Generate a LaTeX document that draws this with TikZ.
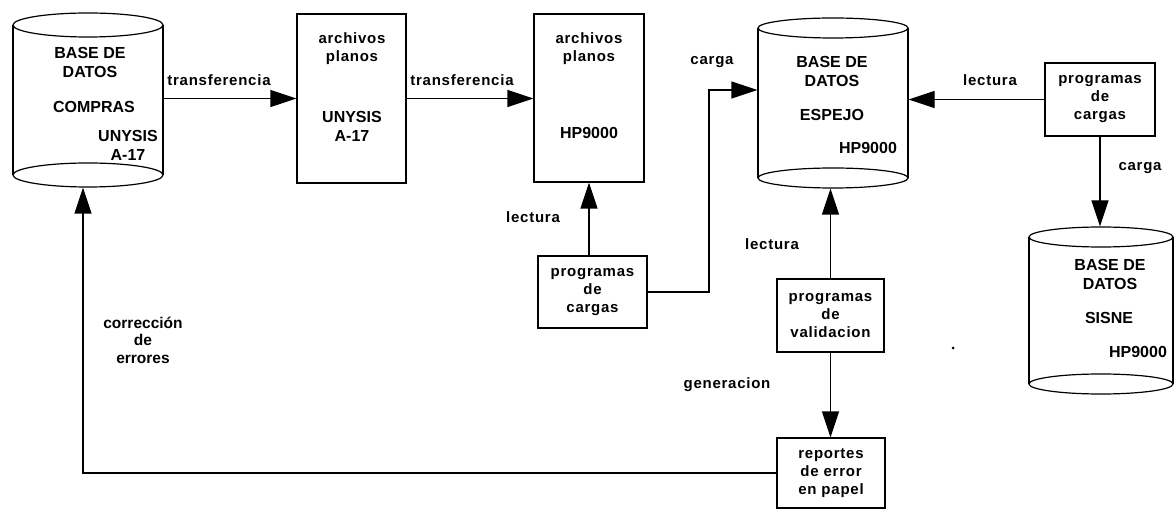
\documentclass[tikz,border=0pt]{standalone}
\usepackage{fontspec}
\setmainfont{Liberation Sans}
\newfontfamily\labfont[LetterSpace=5]{Liberation Sans}
\usetikzlibrary{arrows.meta}

% database drum: name, centre x, top y, bottom y, x radius, y radius
\newcommand\dbcyl[6]{%
  \pgfmathsetmacro\cyh{#4-#3+2*#6}%
  \pgfmathsetmacro\cyc{(#3+#4)/2}%
  \pgfmathsetmacro\cyw{2*#5}%
  \node[inner sep=0, minimum width=\cyw, minimum height=\cyh] (#1) at (#2,\cyc) {};
  \draw (#2,#3) ellipse [x radius=#5, y radius=#6];
  \draw (#2,#4) ellipse [x radius=#5, y radius=#6];
  \draw (#2-#5,#3) -- (#2-#5,#4) (#2+#5,#3) -- (#2+#5,#4);
}

\tikzset{
  box/.style={draw, rectangle, inner sep=0},
  arr/.style={-{Triangle[length=26pt,width=17pt]}},
  caps/.style={font=\bfseries\fontsize{16}{19}\selectfont, align=center, inner sep=0},
  lab/.style={font=\labfont\bfseries\fontsize{15}{18}\selectfont, align=center, inner sep=0},
  note/.style={font=\bfseries\fontsize{15.5}{17.5}\selectfont, align=center, inner sep=0},
}

\begin{document}
\begin{tikzpicture}[x=1pt, y=-1pt, line width=1.2pt]
\useasboundingbox (0,0) rectangle (1175,510);

% data stores
\dbcyl{compras}{88}{25}{175}{75}{12}
\dbcyl{espejo}{833}{28}{178}{75}{10}
\dbcyl{sisne}{1101}{237}{384}{72}{10}

\node[caps] (t1) at (90,62) {BASE DE\\DATOS};
\node[caps] (t2) at (94,107) {COMPRAS};
\node[caps] (t3) at (128,145) {UNYSIS\\A-17};

\node[caps] (t4) at (832,71) {BASE DE\\DATOS};
\node[caps] (t5) at (832,115) {ESPEJO};
\node[caps] (t6) at (868,148) {HP9000};

\node[caps] (t7) at (1110,274) {BASE DE\\DATOS};
\node[caps] (t8) at (1109,318) {SISNE};
\node[caps] (t9) at (1138,352) {HP9000};

% flat files and programs
\node[box, minimum width=109, minimum height=169] (b2) at (351.5,98.5) {};
\node[lab] (t10) at (352,48.5) {archivos\\planos};
\node[caps] (t11) at (352,126) {UNYSIS\\A-17};

\node[box, minimum width=110, minimum height=168] (b3) at (589,98) {};
\node[lab] (t12) at (589,48.5) {archivos\\planos};
\node[caps] (t13) at (589,133) {HP9000};

\node[box, minimum width=109, minimum height=72, lab] (pcm) at (592.5,292) {programas\\de\\cargas};
\node[box, minimum width=110, minimum height=73, lab] (pcr) at (1100,99.5) {programas\\de\\cargas};
\node[box, minimum width=107, minimum height=73, lab] (pv) at (830.5,315.5) {programas\\de\\validacion};
\node[box, minimum width=108, minimum height=70, lab] (rep) at (831,473) {reportes\\de error\\en papel};

% connectors
\coordinate (cj) at (709,90);
\draw[arr] (compras.east |- b2.west) -- (b2.west);
\draw[arr] (b2.east) -- (b3.west |- b2.east);
\draw[arr] (b3.south |- pcm.north) -- (b3.south);
\draw[arr] (pcm.east) -| (cj) -- (espejo.west |- cj);
\draw[arr] (pcr.west) -- (espejo.east |- pcr.west);
\draw[arr] (pcr.south) -- (pcr.south |- sisne.north);
\draw[arr] (pv.north) -- (pv.north |- espejo.south);
\draw[arr] (pv.south) -- (pv.south |- rep.north);
\draw[arr] (rep.west) -| ([xshift=-5pt]compras.south);

% connector labels
\node[lab] (l1) at (219,80) {transferencia};
\node[lab] (l2) at (462,80) {transferencia};
\node[lab] (l3) at (712,62) {carga};
\node[lab] (l4) at (990,80) {lectura};
\node[lab] (l5) at (533,217) {lectura};
\node[lab] (l6) at (772,244) {lectura};
\node[lab] (l7) at (1140,168) {carga};
\node[lab] (l8) at (727,385) {generacion};
\node[note] (l9) at (143,340) {corrección\\de\\errores};

\fill (953,348) circle [radius=1.5];
\end{tikzpicture}
\end{document}
